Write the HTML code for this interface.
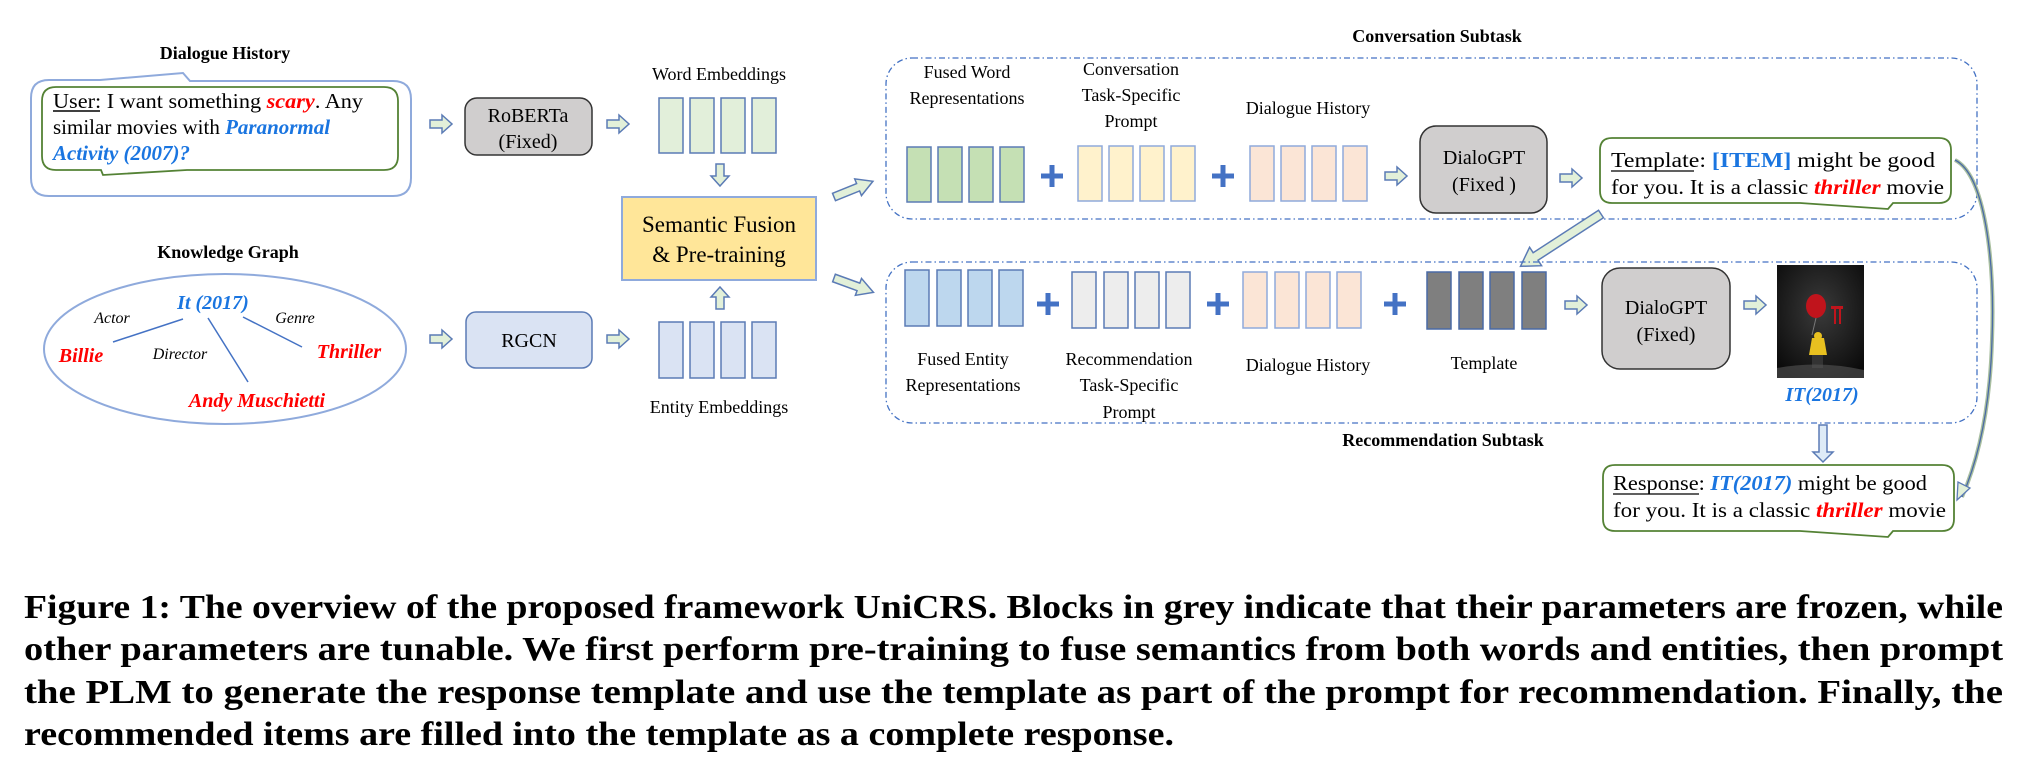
<!DOCTYPE html>
<html><head><meta charset="utf-8"><style>
html,body{margin:0;padding:0;background:#fff;}
svg{display:block;}
text{font-family:"Liberation Serif",serif;}
</style></head><body>
<svg width="2025" height="773" viewBox="0 0 2025 773" xmlns="http://www.w3.org/2000/svg">
<defs>
<g id="ra"><polygon points="-11,-4 1,-4 1,-9 11,0 1,9 1,4 -11,4" fill="#e2f0d9" stroke="#5b7bb5" stroke-width="1.5"/></g>
<g id="plus"><rect x="-11" y="-2.5" width="22" height="5" fill="#4472c4"/><rect x="-2.5" y="-11" width="5" height="22" fill="#4472c4"/></g>
<radialGradient id="pg" cx="50%" cy="40%" r="70%"><stop offset="0" stop-color="#3a3a3a"/><stop offset="1" stop-color="#0a0a0a"/></radialGradient>
</defs>

<!-- Dialogue history -->
<text x="225" y="59" font-size="18" font-weight="bold" text-anchor="middle">Dialogue History</text>
<path d="M49,80 L100,80 L183,73 L190,81 L393,81 Q411,81 411,99 L411,178 Q411,196 393,196 L49,196 Q31,196 31,178 L31,98 Q31,80 49,80 Z" fill="#fff" stroke="#8faadc" stroke-width="2"/>
<path d="M56,87 L384,87 Q398,87 398,101 L398,156 Q398,170 384,170 L187,170 L103,175 L101,170 L56,170 Q42,170 42,156 L42,101 Q42,87 56,87 Z" fill="#fff" stroke="#548235" stroke-width="1.8"/>
<text x="53" y="108" font-size="21" textLength="310" lengthAdjust="spacingAndGlyphs">User: I want something <tspan fill="#ff0000" font-weight="bold" font-style="italic">scary</tspan>. Any</text>
<line x1="53" y1="111" x2="100" y2="111" stroke="#000" stroke-width="1.5"/>
<text x="53" y="134" font-size="21">similar movies with <tspan fill="#1a75e0" font-weight="bold" font-style="italic">Paranormal</tspan></text>
<text x="53" y="160" font-size="21" fill="#1a75e0" font-weight="bold" font-style="italic">Activity (2007)?</text>

<!-- Knowledge graph -->
<text x="228" y="258" font-size="18" font-weight="bold" text-anchor="middle">Knowledge Graph</text>
<ellipse cx="225" cy="349" rx="181" ry="75" fill="#fff" stroke="#8faadc" stroke-width="2"/>
<text x="213" y="309" font-size="20" fill="#1a75e0" font-weight="bold" font-style="italic" text-anchor="middle">It (2017)</text>
<text x="112" y="323" font-size="16" font-style="italic" text-anchor="middle">Actor</text>
<text x="295" y="323" font-size="16" font-style="italic" text-anchor="middle">Genre</text>
<text x="180" y="359" font-size="16" font-style="italic" text-anchor="middle">Director</text>
<text x="81" y="362" font-size="20" fill="#ff0000" font-weight="bold" font-style="italic" text-anchor="middle">Billie</text>
<text x="349" y="358" font-size="20" fill="#ff0000" font-weight="bold" font-style="italic" text-anchor="middle">Thriller</text>
<text x="257" y="407" font-size="20" fill="#ff0000" font-weight="bold" font-style="italic" text-anchor="middle">Andy Muschietti</text>
<line x1="183" y1="319" x2="113" y2="342" stroke="#4472c4" stroke-width="1.5"/>
<line x1="208" y1="318" x2="248" y2="382" stroke="#4472c4" stroke-width="1.5"/>
<line x1="243" y1="317" x2="302" y2="347" stroke="#4472c4" stroke-width="1.5"/>

<!-- encoders -->
<use href="#ra" x="441" y="124"/>
<use href="#ra" x="618" y="124"/>
<use href="#ra" x="441" y="339"/>
<use href="#ra" x="618" y="339"/>
<rect x="465" y="98" width="127" height="57" rx="12" fill="#d0cece" stroke="#333" stroke-width="1.5"/>
<text x="528" y="122" font-size="20" text-anchor="middle">RoBERTa</text>
<text x="528" y="148" font-size="20" text-anchor="middle">(Fixed)</text>
<rect x="466" y="312" width="126" height="56" rx="10" fill="#dae3f3" stroke="#5b7bb5" stroke-width="1.5"/>
<text x="529" y="347" font-size="20" text-anchor="middle">RGCN</text>

<text x="719" y="80" font-size="18" text-anchor="middle">Word Embeddings</text>
<g fill="#e2efda" stroke="#5b7bb5" stroke-width="1.5">
<rect x="659" y="98" width="24" height="55"/><rect x="690" y="98" width="24" height="55"/><rect x="721" y="98" width="24" height="55"/><rect x="752" y="98" width="24" height="55"/>
</g>
<g fill="#dae3f3" stroke="#5b7bb5" stroke-width="1.5">
<rect x="659" y="322" width="24" height="56"/><rect x="690" y="322" width="24" height="56"/><rect x="721" y="322" width="24" height="56"/><rect x="752" y="322" width="24" height="56"/>
</g>
<text x="719" y="413" font-size="18" text-anchor="middle">Entity Embeddings</text>
<use href="#ra" transform="translate(720,175) rotate(90)"/>
<use href="#ra" transform="translate(720,298) rotate(-90)"/>
<rect x="622" y="197" width="194" height="83" fill="#ffe699" stroke="#8faadc" stroke-width="2"/>
<text x="719" y="232" font-size="23" text-anchor="middle">Semantic Fusion</text>
<text x="719" y="262" font-size="23" text-anchor="middle">&amp; Pre-training</text>
<g transform="translate(834,197) rotate(-22)"><polygon points="0,-4 26,-4 26,-9 42,0 26,9 26,4 0,4" fill="#e2f0d9" stroke="#5b7bb5" stroke-width="1.5"/></g>
<g transform="translate(834,278) rotate(20)"><polygon points="0,-4 26,-4 26,-9 42,0 26,9 26,4 0,4" fill="#e2f0d9" stroke="#5b7bb5" stroke-width="1.5"/></g>

<!-- Conversation subtask -->
<text x="1437" y="42" font-size="18" font-weight="bold" text-anchor="middle">Conversation Subtask</text>
<rect x="886" y="58" width="1091" height="161" rx="26" fill="none" stroke="#4472c4" stroke-width="1.3" stroke-dasharray="6,3,1.5,3"/>
<text x="967" y="78" font-size="18" text-anchor="middle">Fused Word</text>
<text x="967" y="104" font-size="18" text-anchor="middle">Representations</text>
<text x="1131" y="75" font-size="18" text-anchor="middle">Conversation</text>
<text x="1131" y="101" font-size="18" text-anchor="middle">Task-Specific</text>
<text x="1131" y="127" font-size="18" text-anchor="middle">Prompt</text>
<text x="1308" y="114" font-size="18" text-anchor="middle">Dialogue History</text>
<g fill="#c5e0b4" stroke="#5b7bb5" stroke-width="1.5">
<rect x="907" y="147" width="24" height="55"/><rect x="938" y="147" width="24" height="55"/><rect x="969" y="147" width="24" height="55"/><rect x="1000" y="147" width="24" height="55"/>
</g>
<use href="#plus" x="1052" y="176"/>
<g fill="#fff2cc" stroke="#8faadc" stroke-width="1.5">
<rect x="1078" y="146" width="24" height="55"/><rect x="1109" y="146" width="24" height="55"/><rect x="1140" y="146" width="24" height="55"/><rect x="1171" y="146" width="24" height="55"/>
</g>
<use href="#plus" x="1223" y="176"/>
<g fill="#fbe5d6" stroke="#8faadc" stroke-width="1.5">
<rect x="1250" y="146" width="24" height="55"/><rect x="1281" y="146" width="24" height="55"/><rect x="1312" y="146" width="24" height="55"/><rect x="1343" y="146" width="24" height="55"/>
</g>
<use href="#ra" x="1396" y="176"/>
<rect x="1420" y="126" width="127" height="87" rx="16" fill="#d0cece" stroke="#333" stroke-width="1.5"/>
<text x="1484" y="164" font-size="20" text-anchor="middle">DialoGPT</text>
<text x="1484" y="191" font-size="20" text-anchor="middle">(Fixed )</text>
<use href="#ra" x="1571" y="178"/>
<path d="M1612,138 L1939,138 Q1951,138 1951,150 L1951,191 Q1951,203 1939,203 L1893,203 L1888,209 L1800,203 L1612,203 Q1600,203 1600,191 L1600,150 Q1600,138 1612,138 Z" fill="#fff" stroke="#548235" stroke-width="1.8"/>
<text x="1611" y="167" font-size="21" textLength="324" lengthAdjust="spacingAndGlyphs">Template:   <tspan fill="#1a75e0" font-weight="bold">[ITEM]</tspan> might be good</text>
<line x1="1611" y1="171" x2="1694" y2="171" stroke="#000" stroke-width="1.3"/>
<text x="1611" y="194" font-size="21" textLength="333" lengthAdjust="spacingAndGlyphs">for you. It is a classic <tspan fill="#ff0000" font-weight="bold" font-style="italic">thriller</tspan> movie</text>

<!-- diagonal arrow template -> rec -->
<g transform="translate(1601,214) rotate(147)"><polygon points="0,-4.5 78,-4.5 78,-11 96,0 78,11 78,4.5 0,4.5" fill="#e2f0d9" stroke="#5b7bb5" stroke-width="1.5"/></g>

<!-- Recommendation subtask -->
<rect x="886" y="262" width="1091" height="161" rx="26" fill="none" stroke="#4472c4" stroke-width="1.3" stroke-dasharray="6,3,1.5,3"/>
<text x="1443" y="446" font-size="18" font-weight="bold" text-anchor="middle">Recommendation Subtask</text>
<g fill="#bdd7ee" stroke="#5b7bb5" stroke-width="1.5">
<rect x="905" y="270" width="24" height="56"/><rect x="937" y="270" width="24" height="56"/><rect x="968" y="270" width="24" height="56"/><rect x="999" y="270" width="24" height="56"/>
</g>
<use href="#plus" x="1048" y="304"/>
<g fill="#ededed" stroke="#5b7bb5" stroke-width="1.5">
<rect x="1072" y="272" width="24" height="56"/><rect x="1104" y="272" width="24" height="56"/><rect x="1135" y="272" width="24" height="56"/><rect x="1166" y="272" width="24" height="56"/>
</g>
<use href="#plus" x="1218" y="304"/>
<g fill="#fbe5d6" stroke="#8faadc" stroke-width="1.5">
<rect x="1243" y="272" width="24" height="56"/><rect x="1275" y="272" width="24" height="56"/><rect x="1306" y="272" width="24" height="56"/><rect x="1337" y="272" width="24" height="56"/>
</g>
<use href="#plus" x="1395" y="304"/>
<g fill="#7f7f7f" stroke="#4a6aa5" stroke-width="1.5">
<rect x="1427" y="272" width="24" height="57"/><rect x="1459" y="272" width="24" height="57"/><rect x="1490" y="272" width="24" height="57"/><rect x="1522" y="272" width="24" height="57"/>
</g>
<text x="963" y="365" font-size="18" text-anchor="middle">Fused Entity</text>
<text x="963" y="391" font-size="18" text-anchor="middle">Representations</text>
<text x="1129" y="365" font-size="18" text-anchor="middle">Recommendation</text>
<text x="1129" y="391" font-size="18" text-anchor="middle">Task-Specific</text>
<text x="1129" y="418" font-size="18" text-anchor="middle">Prompt</text>
<text x="1308" y="371" font-size="18" text-anchor="middle">Dialogue History</text>
<text x="1484" y="369" font-size="18" text-anchor="middle">Template</text>
<use href="#ra" x="1576" y="305"/>
<rect x="1602" y="268" width="128" height="101" rx="18" fill="#d0cece" stroke="#333" stroke-width="1.5"/>
<text x="1666" y="314" font-size="20" text-anchor="middle">DialoGPT</text>
<text x="1666" y="341" font-size="20" text-anchor="middle">(Fixed)</text>
<use href="#ra" x="1755" y="305"/>
<rect x="1777" y="265" width="87" height="113" fill="url(#pg)"/>
<line x1="1816" y1="318" x2="1812" y2="335" stroke="#777" stroke-width="1"/>
<ellipse cx="1816" cy="306" rx="10" ry="12" fill="#c0141c"/>
<circle cx="1818" cy="336" r="4" fill="#e8c020"/>
<path d="M1812,338 L1824,338 L1827,355 L1809,355 Z" fill="#e8c020"/>
<rect x="1812" y="355" width="11" height="13" fill="#333"/>
<rect x="1831" y="306" width="12" height="3" fill="#c0141c"/>
<rect x="1834" y="309" width="2" height="15" fill="#c0141c"/><rect x="1839" y="309" width="2" height="15" fill="#c0141c"/>
<path d="M1777,368 Q1820,360 1864,370 L1864,378 L1777,378 Z" fill="#555" opacity="0.6"/>
<text x="1822" y="401" font-size="20" fill="#1a75e0" font-weight="bold" font-style="italic" text-anchor="middle">IT(2017)</text>

<!-- down arrow -->
<polygon points="1819,425 1827,425 1827,452 1833,452 1823,462 1813,452 1819,452" fill="#deebf7" stroke="#5b7bb5" stroke-width="1.5"/>

<!-- response bubble -->
<path d="M1615,465 L1942,465 Q1954,465 1954,477 L1954,519 Q1954,531 1942,531 L1893,531 L1888,537 L1800,531 L1615,531 Q1603,531 1603,519 L1603,477 Q1603,465 1615,465 Z" fill="#fff" stroke="#548235" stroke-width="1.8"/>
<text x="1613" y="490" font-size="21" textLength="314" lengthAdjust="spacingAndGlyphs">Response: <tspan fill="#1a75e0" font-weight="bold" font-style="italic">IT(2017)</tspan> might be good</text>
<line x1="1613" y1="494" x2="1699" y2="494" stroke="#000" stroke-width="1.3"/>
<text x="1613" y="517" font-size="21" textLength="333" lengthAdjust="spacingAndGlyphs">for you. It is a classic <tspan fill="#ff0000" font-weight="bold" font-style="italic">thriller</tspan> movie</text>

<!-- curved arrow -->
<path d="M1955,160 C1985,175 1995,260 1992,340 C1990,410 1978,460 1962,497" fill="none" stroke="#a9bfa0" stroke-width="4"/>
<path d="M1955,160 C1985,175 1995,260 1992,340 C1990,410 1978,460 1962,497" fill="none" stroke="#4a6aa5" stroke-width="1.3"/>
<polygon points="1957,500 1958,482 1970,488" fill="#e2f0d9" stroke="#5b7bb5" stroke-width="1.3"/>

<!-- caption -->
<g font-size="34" font-weight="bold">
<text x="24" y="618" textLength="1979" lengthAdjust="spacingAndGlyphs">Figure 1: The overview of the proposed framework UniCRS. Blocks in grey indicate that their parameters are frozen, while</text>
<text x="24" y="660" textLength="1979" lengthAdjust="spacingAndGlyphs">other parameters are tunable. We first perform pre-training to fuse semantics from both words and entities, then prompt</text>
<text x="24" y="703" textLength="1979" lengthAdjust="spacingAndGlyphs">the PLM to generate the response template and use the template as part of the prompt for recommendation. Finally, the</text>
<text x="24" y="745" textLength="1150" lengthAdjust="spacingAndGlyphs">recommended items are filled into the template as a complete response.</text>
</g>
</svg>
</body></html>
